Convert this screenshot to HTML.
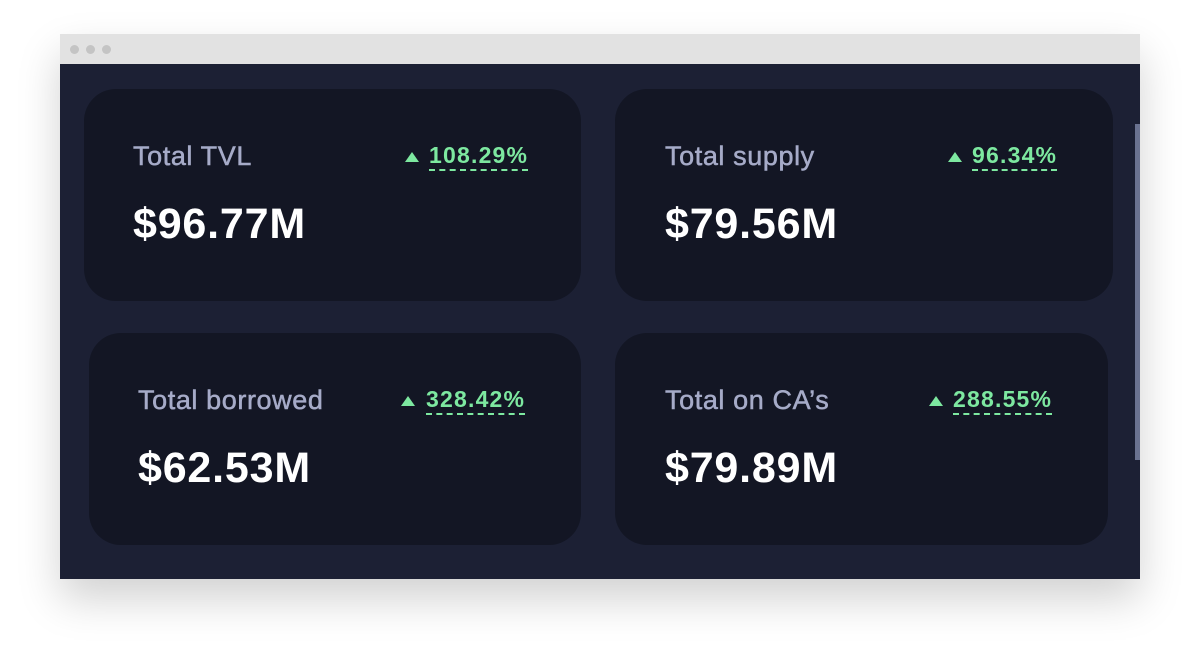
<!DOCTYPE html>
<html><head><style>
body{margin:0;width:1200px;height:664px;background:#fff;position:relative;overflow:hidden;font-family:"Liberation Sans",sans-serif}
.win{position:absolute;left:60px;top:34px;width:1080px;height:545px;box-shadow:0 20px 40px rgba(0,0,0,.18)}
.bar{position:absolute;left:0;top:0;width:1080px;height:30px;background:#e2e2e2}
.dot{position:absolute;top:11px;width:9px;height:9px;border-radius:50%;background:#c4c4c4}
.content{position:absolute;left:0;top:30px;width:1080px;height:515px;background:#1c2034}
.scroll{position:absolute;left:1075px;top:60px;width:5px;height:336px;background:#6a7290}
.card{position:absolute;background:#131624;border-radius:32px}
.label{position:absolute;font-size:27px;color:#a6abc8;top:52px;letter-spacing:0.6px;-webkit-text-stroke:0.5px #a6abc8}
.val{position:absolute;font-size:43px;font-weight:bold;color:#fff;top:111px;letter-spacing:0.8px}
.pct{position:absolute;top:52px;font-size:23px;font-weight:bold;color:#7de8a0;border-bottom:2px dashed #7de8a0;line-height:28px;letter-spacing:1.2px}
.tri{position:absolute;top:63px;width:0;height:0;border-left:7px solid transparent;border-right:7px solid transparent;border-bottom:10px solid #7de8a0}
</style></head><body>
<div class="win">
<div class="bar">
<div class="dot" style="left:10px"></div>
<div class="dot" style="left:26px"></div>
<div class="dot" style="left:42px"></div>
</div>
<div class="content">
<div class="card" style="left:24px;top:25px;width:497px;height:212px">
<div class="label" style="left:49px">Total TVL</div>
<div class="tri" style="left:321px"></div>
<div class="pct" style="left:345px">108.29%</div>
<div class="val" style="left:49px">$96.77M</div>
</div>
<div class="card" style="left:555px;top:25px;width:498px;height:212px">
<div class="label" style="left:50px">Total supply</div>
<div class="tri" style="left:333px"></div>
<div class="pct" style="left:357px">96.34%</div>
<div class="val" style="left:50px">$79.56M</div>
</div>
<div class="card" style="left:29px;top:269px;width:492px;height:212px">
<div class="label" style="left:49px">Total borrowed</div>
<div class="tri" style="left:312px"></div>
<div class="pct" style="left:337px">328.42%</div>
<div class="val" style="left:49px">$62.53M</div>
</div>
<div class="card" style="left:555px;top:269px;width:493px;height:212px">
<div class="label" style="left:50px">Total on CA’s</div>
<div class="tri" style="left:314px"></div>
<div class="pct" style="left:338px">288.55%</div>
<div class="val" style="left:50px">$79.89M</div>
</div>
<div class="scroll"></div>
</div>
</div>
</body></html>
